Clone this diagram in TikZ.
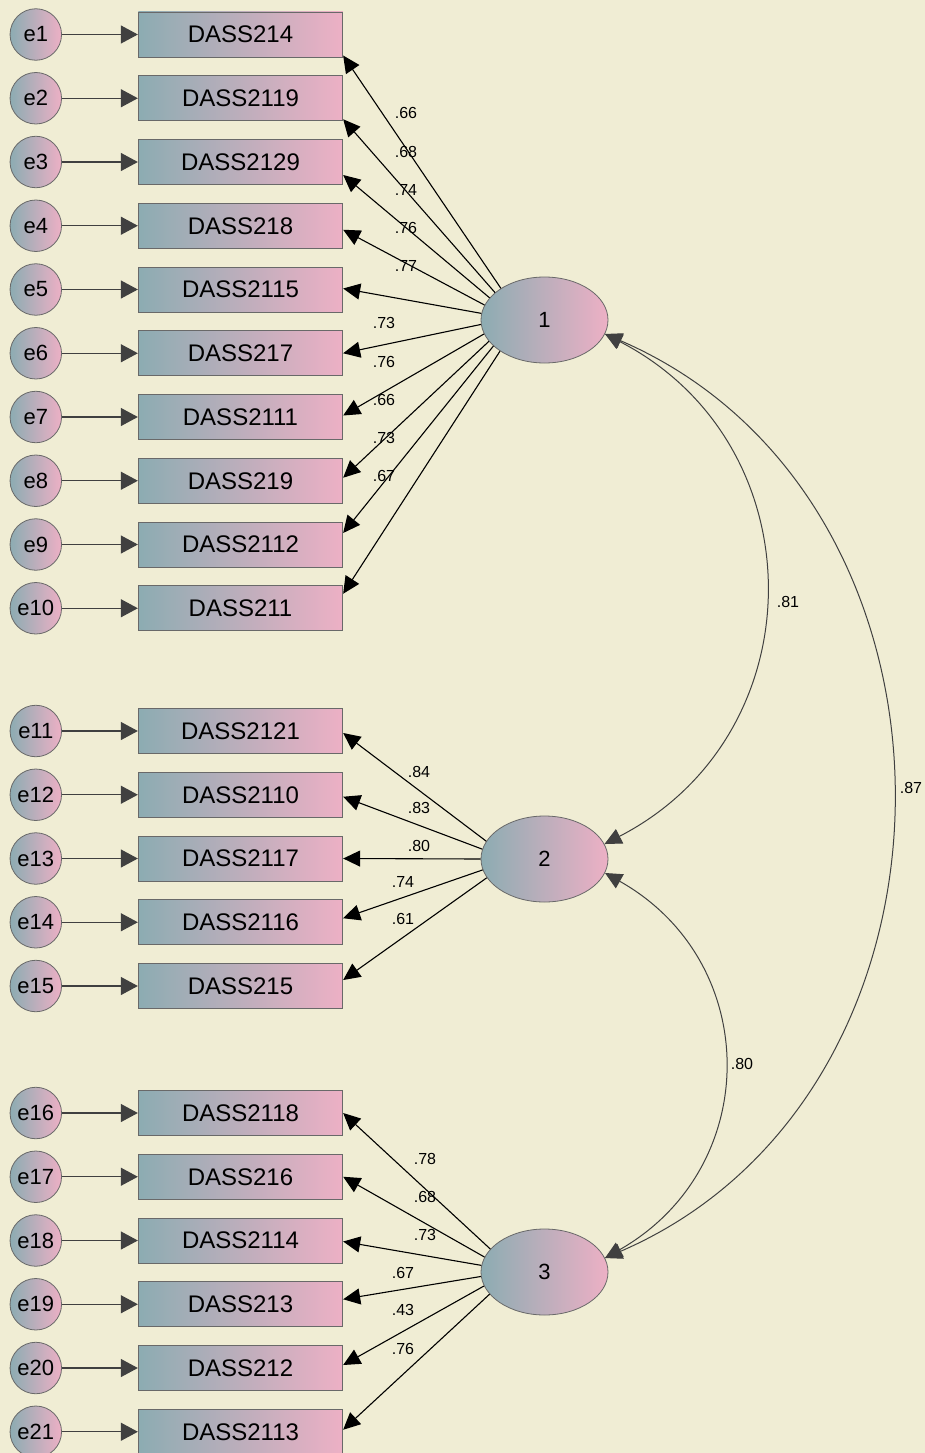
\documentclass[tikz,border=0pt]{standalone}
\usepackage{fontspec}
\setmainfont{Liberation Sans}
\usetikzlibrary{arrows.meta,calc,shapes.geometric}
\definecolor{bg}{RGB}{240,237,212}
\definecolor{gl}{RGB}{140,172,178}
\definecolor{gr}{RGB}{237,176,197}
\definecolor{dk}{RGB}{64,64,64}
\definecolor{bd}{RGB}{105,105,105}
\begin{document}
\begin{tikzpicture}[x=1pt,y=-1pt,
  obs/.style={draw=bd, line width=0.8pt, left color=gl, right color=gr, minimum width=204.5pt, minimum height=45pt, inner sep=0pt, font=\fontsize{24}{24}\selectfont},
  err/.style={circle, draw=bd, line width=0.8pt, left color=gl, right color=gr, minimum size=51.5pt, inner sep=0pt, font=\fontsize{22}{22}\selectfont},
  lat/.style={ellipse, draw=bd, line width=0.8pt, left color=gl, right color=gr, minimum width=127pt, minimum height=86pt, inner sep=0pt, font=\fontsize{22}{22}\selectfont},
  load/.style={draw=black, line width=1.1pt, -{Triangle[length=17pt,width=16pt]}},
  earr/.style={draw=dk, line width=1.1pt, -{Triangle[length=17pt,width=18pt]}},
  cov/.style={draw=dk, line width=1pt, {Triangle[length=17pt,width=16pt]}-{Triangle[length=17pt,width=16pt]}},
  lab/.style={font=\fontsize{16}{16}\selectfont, inner sep=0pt}
]
\fill[bg] (0,0) rectangle (925,1453);
\useasboundingbox (0,0) rectangle (925,1453);

\foreach \i/\y/\t in {1/34.5/DASS214, 2/98.25/DASS2119, 3/162/DASS2129, 4/225.75/DASS218, 5/289.5/DASS2115,
  6/353.25/DASS217, 7/417/DASS2111, 8/480.75/DASS219, 9/544.5/DASS2112, 10/608.25/DASS211,
  11/731/DASS2121, 12/794.75/DASS2110, 13/858.5/DASS2117, 14/922.25/DASS2116, 15/986/DASS215,
  16/1113/DASS2118, 17/1176.75/DASS216, 18/1240.5/DASS2114, 19/1304.25/DASS213, 20/1368/DASS212, 21/1431.75/DASS2113}{
  \node[err] (e\i) at (35.8,\y) {e\i};
  \node[obs] (b\i) at (240.5,\y) {\t};
  \draw[earr] (e\i) -- (b\i);
}

\node[lat] (f1) at (544.5,320) {1};
\node[lat] (f2) at (544.5,859) {2};
\node[lat] (f3) at (544.5,1272) {3};

\foreach \i/\a/\d in {1/144/21, 2/151.6/21, 3/158.6/13, 4/166/4, 5/174.6/-1, 6/184.5/0, 7/193.8/-1.5, 8/201.4/-3, 9/207.9/-11.5, 10/215.4/-14.5}
  \draw[load] (f1.\a) -- ($(b\i.east)+(0,\d)$);
\foreach \i/\a/\d in {11/163/2, 12/171/2, 13/180/0, 14/190/-4, 15/198/-6}
  \draw[load] (f2.\a) -- ($(b\i.east)+(0,\d)$);
\foreach \i/\a/\d in {16/157/0, 17/166/0, 18/174.6/1, 19/184.5/-5, 20/193.7/-3, 21/202.5/-2}
  \draw[load] (f3.\a) -- ($(b\i.east)+(0,\d)$);

\draw[cov] (f1.-13) .. controls (818,444) and (818,734) .. (f2.14);
\draw[cov] (f2.-13) .. controls (763,962) and (763,1168) .. (f3.13);
\draw[cov] (f1.-13) .. controls (987,499) and (987,1093) .. (f3.13);

\foreach \n/\x/\y/\t in {l1/406/113/.66, l2/406/152/.68, l3/406/190/.74, l4/406/228/.76, l5/406/266/.77,
  l6/384/323/.73, l7/384/362/.76, l8/384/400/.66, l9/384/438/.73, l10/384/476/.67,
  l11/419/772/.84, l12/419/808/.83, l13/419/846/.80, l14/403/882/.74, l15/403/919/.61,
  l16/425/1159/.78, l17/425/1197/.68, l18/425/1235/.73, l19/403/1273/.67, l20/403/1310/.43, l21/403/1349/.76,
  c12/788/602/.81, c13/911/788/.87, c23/742/1064/.80}
  \node[lab] (\n) at (\x,\y) {\t};
\end{tikzpicture}
\end{document}
